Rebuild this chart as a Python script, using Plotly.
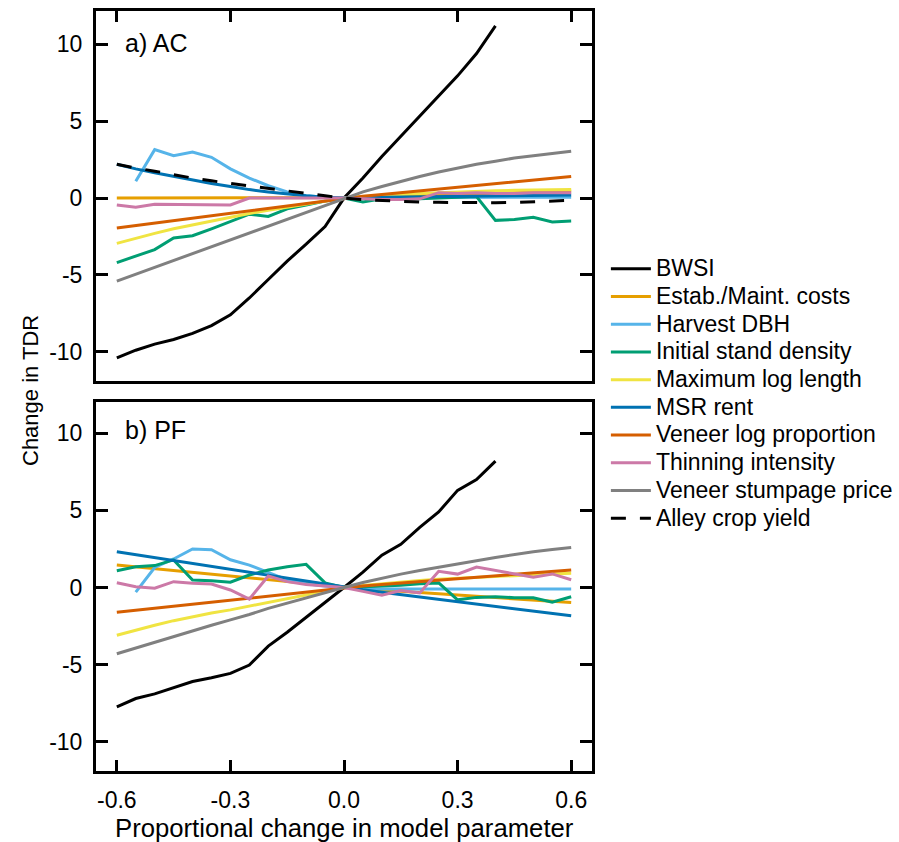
import plotly.graph_objects as go

X = [-0.6, -0.55, -0.5, -0.45, -0.4, -0.35, -0.3, -0.25, -0.2, -0.15, -0.1, -0.05, 0.0,
     0.05, 0.1, 0.15, 0.2, 0.25, 0.3, 0.35, 0.4, 0.45, 0.5, 0.55, 0.6]
X_BWSI = X[:21]          # -0.6 .. 0.4
X_DBH = X[1:]            # -0.55 .. 0.6

# ---- panel a) AC ----
a_bwsi = [-10.4, -9.9, -9.5, -9.2, -8.8, -8.3, -7.6, -6.5, -5.3, -4.1, -3.0, -1.85, 0.0,
          1.3, 2.7, 4.0, 5.35, 6.6, 7.95, 9.4, 11.2]
a_estab = [0.0, 0.0, 0.0, 0.0, 0.0, 0.0, 0.0, 0.0, 0.0, 0.0, 0.0, 0.0, 0.0,
           0.04, 0.08, 0.12, 0.16, 0.2, 0.24, 0.28, 0.32, 0.36, 0.4, 0.43, 0.46]
a_dbh = [1.1, 3.15, 2.75, 3.0, 2.65, 1.9, 1.3, 0.8, 0.4, 0.15, 0.05, 0.0,
         0.02, 0.03, 0.03, 0.04, 0.05, 0.05, 0.05, 0.05, 0.05, 0.05, 0.05, 0.05]
a_density = [-4.2, -3.75, -3.35, -2.6, -2.45, -2.0, -1.5, -1.05, -1.2, -0.7, -0.45, -0.2, 0.0,
             -0.25, -0.05, -0.05, -0.05, 0.0, 0.05, 0.1, -1.45, -1.4, -1.25, -1.55, -1.5]
a_loglen = [-2.95, -2.6, -2.3, -2.0, -1.75, -1.5, -1.25, -1.0, -0.8, -0.6, -0.4, -0.2, 0.0,
            0.1, 0.18, 0.25, 0.3, 0.35, 0.4, 0.44, 0.48, 0.5, 0.52, 0.54, 0.55]
a_msr = [2.2, 1.9, 1.65, 1.4, 1.15, 0.95, 0.75, 0.55, 0.4, 0.27, 0.15, 0.06, 0.0,
         0.03, 0.05, 0.07, 0.09, 0.1, 0.12, 0.14, 0.16, 0.17, 0.18, 0.19, 0.2]
a_veneerprop = [-1.95, -1.79, -1.63, -1.46, -1.3, -1.14, -0.98, -0.81, -0.65, -0.49, -0.33, -0.16, 0.0,
                0.12, 0.23, 0.35, 0.47, 0.58, 0.7, 0.82, 0.93, 1.05, 1.17, 1.28, 1.4]
a_thin = [-0.45, -0.6, -0.4, -0.42, -0.42, -0.45, -0.45, 0.0, 0.0, 0.0, 0.0, 0.0, 0.0,
          -0.05, -0.1, -0.1, -0.05, 0.35, 0.3, 0.35, 0.3, 0.3, 0.35, 0.35, 0.35]
a_stumpage = [-5.4, -4.95, -4.5, -4.05, -3.6, -3.15, -2.7, -2.25, -1.8, -1.35, -0.9, -0.45, 0.0,
              0.4, 0.75, 1.1, 1.4, 1.7, 1.95, 2.2, 2.4, 2.6, 2.75, 2.9, 3.05]
a_alley = [2.2, 1.95, 1.75, 1.52, 1.3, 1.12, 0.95, 0.78, 0.6, 0.45, 0.3, 0.15, 0.0,
           -0.1, -0.17, -0.22, -0.26, -0.28, -0.3, -0.3, -0.3, -0.28, -0.25, -0.2, -0.15]

# ---- panel b) PF ----
b_bwsi = [-7.74, -7.2, -6.9, -6.5, -6.1, -5.85, -5.57, -5.03, -3.8, -2.9, -1.95, -1.0, 0.0,
          1.0, 2.1, 2.8, 3.9, 4.9, 6.3, 7.0, 8.2]
b_estab = [1.46, 1.34, 1.22, 1.1, 0.97, 0.85, 0.73, 0.61, 0.49, 0.37, 0.24, 0.12, 0.0,
           -0.08, -0.16, -0.25, -0.33, -0.41, -0.49, -0.57, -0.65, -0.74, -0.82, -0.9, -0.98]
b_dbh = [-0.3, 1.3, 1.85, 2.5, 2.45, 1.8, 1.45, 0.95, 0.5, 0.25, 0.1, 0.0,
         -0.05, -0.1, -0.1, -0.1, -0.1, -0.1, -0.1, -0.1, -0.1, -0.1, -0.1, -0.1]
b_density = [1.09, 1.35, 1.42, 1.79, 0.49, 0.44, 0.34, 0.81, 1.14, 1.35, 1.5, 0.3, 0.0,
             0.05, 0.1, 0.15, 0.25, 0.3, -0.8, -0.64, -0.6, -0.66, -0.66, -0.96, -0.6]
b_loglen = [-3.1, -2.75, -2.45, -2.15, -1.9, -1.65, -1.45, -1.2, -0.95, -0.7, -0.45, -0.22, 0.0,
            0.13, 0.25, 0.35, 0.45, 0.53, 0.6, 0.67, 0.72, 0.77, 0.82, 0.87, 0.92]
b_msr = [2.32, 2.13, 1.93, 1.74, 1.55, 1.35, 1.16, 0.97, 0.77, 0.58, 0.39, 0.19, 0.0,
         -0.15, -0.31, -0.46, -0.61, -0.76, -0.92, -1.07, -1.22, -1.37, -1.53, -1.68, -1.83]
b_veneerprop = [-1.61, -1.48, -1.34, -1.21, -1.07, -0.94, -0.8, -0.67, -0.54, -0.4, -0.27, -0.13, 0.0,
                0.1, 0.19, 0.29, 0.38, 0.48, 0.57, 0.67, 0.76, 0.86, 0.95, 1.05, 1.14]
b_thin = [0.31, 0.05, -0.05, 0.38, 0.27, 0.23, -0.16, -0.75, 0.75, 0.38, 0.2, 0.08, 0.0,
          -0.25, -0.5, -0.2, -0.35, 1.05, 0.87, 1.33, 1.1, 0.88, 0.66, 0.88, 0.5]
b_stumpage = [-4.3, -3.92, -3.55, -3.18, -2.8, -2.45, -2.1, -1.75, -1.35, -1.0, -0.65, -0.32, 0.0,
              0.32, 0.6, 0.87, 1.1, 1.3, 1.5, 1.73, 1.95, 2.15, 2.32, 2.47, 2.6]

NAMES = ["BWSI", "Estab./Maint. costs", "Harvest DBH", "Initial stand density",
         "Maximum log length", "MSR rent", "Veneer log proportion", "Thinning intensity",
         "Veneer stumpage price", "Alley crop yield"]
COLORS = ["#000000", "#E69F00", "#56B4E9", "#009E73", "#F0E442", "#0072B2",
          "#D55E00", "#CC79A7", "#808080", "#000000"]

FONT = "Liberation Sans, Arial, sans-serif"

series_a = [(X_BWSI, a_bwsi), (X, a_estab), (X_DBH, a_dbh), (X, a_density), (X, a_loglen),
            (X, a_msr), (X, a_veneerprop), (X, a_thin), (X, a_stumpage), (X, a_alley)]
series_b = [(X_BWSI, b_bwsi), (X, b_estab), (X_DBH, b_dbh), (X, b_density), (X, b_loglen),
            (X, b_msr), (X, b_veneerprop), (X, b_thin), (X, b_stumpage)]

fig = go.Figure()
for i, (xs, ys) in enumerate(series_a):
    dash = "15px,14px" if NAMES[i] == "Alley crop yield" else "solid"
    label = '<span style="font-size:23px">' + NAMES[i] + '</span>'
    fig.add_trace(go.Scatter(x=xs, y=ys, mode="lines", name=label, legendgroup=NAMES[i],
                             line=dict(color=COLORS[i], width=3, dash=dash),
                             xaxis="x", yaxis="y", showlegend=True))
for i, (xs, ys) in enumerate(series_b):
    fig.add_trace(go.Scatter(x=xs, y=ys, mode="lines", name=NAMES[i], legendgroup=NAMES[i],
                             line=dict(color=COLORS[i], width=3),
                             xaxis="x2", yaxis="y2", showlegend=False))

XT = [-0.6, -0.3, 0.0, 0.3, 0.6]
XTL = ["-0.6", "-0.3", "0.0", "0.3", "0.6"]
YT = [-10, -5, 0, 5, 10]
YTL = ["-10", "-5", "0", "5", "10"]

common_x = dict(range=[-0.655, 0.655], tickvals=XT, ticktext=XTL, ticks="inside", ticklen=11,
                tickwidth=3, tickcolor="black", showline=True, linewidth=3, linecolor="black",
                mirror=True, showgrid=False, zeroline=False,
                tickfont=dict(family=FONT, size=23, color="black"))
common_y = dict(tickvals=YT, ticktext=YTL, ticks="inside", ticklen=12,
                tickwidth=3, tickcolor="black", showline=True, linewidth=3, linecolor="black",
                mirror="ticks", showgrid=False, zeroline=False,
                tickfont=dict(family=FONT, size=23, color="black"))

fig.update_layout(
    width=899, height=842,
    margin=dict(l=96, r=307, t=11, b=71, autoexpand=False),
    paper_bgcolor="white", plot_bgcolor="white",
    font=dict(family=FONT, color="black"),
    xaxis=dict(common_x, domain=[0, 1], anchor="y", side="top", showticklabels=False),
    yaxis=dict(common_y, range=[-11.9, 12.17], domain=[0.5132, 1.0], anchor="x",
               ticklabelstandoff=6),
    xaxis2=dict(common_x, domain=[0, 1], anchor="y2", side="bottom", ticklabelstandoff=6),
    yaxis2=dict(common_y, range=[-11.9, 12.03], domain=[0.0, 0.4855], anchor="x2",
                ticklabelstandoff=6),
    legend=dict(x=1.028, y=0.6855, xanchor="left", yanchor="top",
                font=dict(family=FONT, size=19, color="black"),
                bgcolor="rgba(0,0,0,0)", tracegroupgap=0, itemwidth=40),
    showlegend=True,
    annotations=[
        dict(text="a) AC", x=-0.583, y=10.1, xref="x", yref="y", xanchor="left", yanchor="middle",
             showarrow=False, font=dict(family=FONT, size=25, color="black")),
        dict(text="b) PF", x=-0.583, y=10.2, xref="x2", yref="y2", xanchor="left", yanchor="middle",
             showarrow=False, font=dict(family=FONT, size=25, color="black")),
        dict(text="Change in TDR", x=0, y=0.5, xref="paper", yref="paper", xanchor="center",
             yanchor="middle", showarrow=False, textangle=-90, xshift=-66,
             font=dict(family=FONT, size=22, color="black")),
        dict(text="Proportional change in model parameter", x=0.5, y=0, xref="paper", yref="paper",
             xanchor="center", yanchor="middle", yshift=-57, showarrow=False,
             font=dict(family=FONT, size=25.7, color="black")),
    ],
)

fig.write_html("out.html", config={"displayModeBar": False},
               post_script="document.body.style.margin='0';")
